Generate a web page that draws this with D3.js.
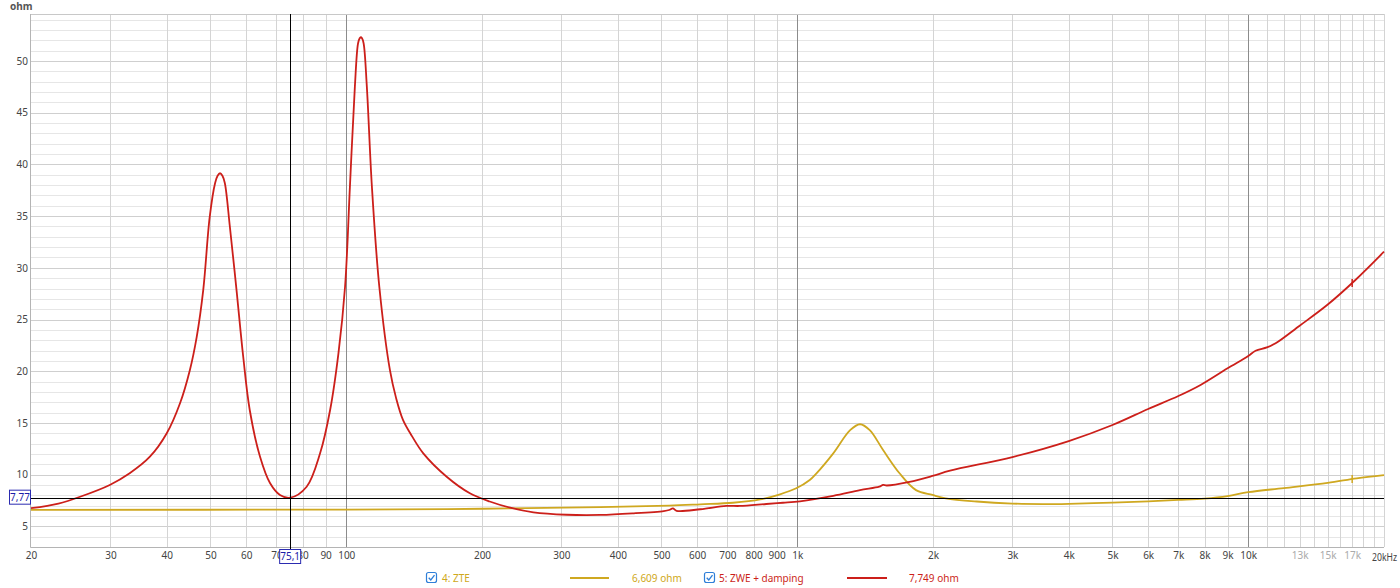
<!DOCTYPE html>
<html><head><meta charset="utf-8">
<script src="https://cdn.jsdelivr.net/npm/d3@7"></script>
<style>
html,body{margin:0;padding:0;background:#fff;}
svg{display:block;font-family:"Noto Sans","Open Sans",sans-serif;}
</style></head>
<body><svg id="c" width="1400" height="588"></svg>
<script>
// ---- data ----
const zweFreq = [20,23,25.7,29.9,33.1,36.7,40,42.8,45,46.6,48.2,49.8,51.2,51.85,52.5,53.15,53.8,55.2,57.1,59.1,61.1,64.4,67.8,71.3,75.1,81.7,87.5,92.1,96.1,99.4,101.9,104.5,106.2,107.1,107.7,108.4,109.3,111.1,114,118.4,125,129,133.6,140,148.2,167,188,208,231,260,308,366,434,506,520,530,540,610,696,746,854,930,1014,1202,1378,1520,1550,1580,1774,1994,2182,3000,4000,5000,6000,7000,7840,9000,10000,10380,11000,11500,13000,14960,17260,20000];
const zweVal  = [6.75,7.2,7.86,9.0,10.13,11.73,14.0,16.9,20.1,23.3,27.9,34.9,38.2,38.9,39.15,38.9,38.2,34.0,27.9,21.4,16.25,11.73,9.16,8.03,7.77,8.83,12.06,16.25,21.73,28.17,37.85,47.5,51.7,52.2,52.3,52.2,51.7,47.5,37.85,28.17,20.1,17.4,15.3,13.7,12.06,9.8,8.2,7.4,6.8,6.35,6.12,6.1,6.26,6.48,6.58,6.74,6.5,6.65,6.97,6.97,7.16,7.28,7.42,7.95,8.5,8.83,9.0,8.95,9.3,9.87,10.38,11.7,13.25,14.8,16.35,17.6,18.67,20.28,21.47,21.98,22.3,22.7,24.4,26.4,28.8,31.56];
const zteFreq = [20,100,200,366,520,610,720,828,916,995,1066,1102,1202,1310,1378,1448,1550,1686,1834,1994,2134,2500,3000,3500,4000,5000,6000,7000,8000,9000,10000,12000,15000,17400,20000];
const zteVal  = [6.6,6.62,6.7,6.85,7.0,7.13,7.28,7.6,8.1,8.68,9.48,10.1,12.06,14.3,14.87,14.3,12.38,10.13,8.5,8.03,7.71,7.4,7.2,7.15,7.18,7.3,7.42,7.55,7.68,7.92,8.3,8.7,9.2,9.64,9.96];
const xTickVals = [20,30,40,50,60,70,80,90,100,200,300,400,500,600,700,800,900,1000,2000,3000,4000,5000,6000,7000,8000,9000,10000,13000,15000,17000,20000];
const yTickVals = [5,10,15,20,25,30,35,40,45,50];
const seriesNames = ["4: ZTE","5: ZWE + damping"];
const cursorValues = ["6,609 ohm","7,749 ohm"];
const cursorFreq = 75.1, cursorOhm = 7.77;
const cursorFreqLabel = "75,1", cursorOhmLabel = "7,77";

// ---- layout ----
const L=31, R=1384, T=14, B=547;
const RED="#cc1f1a", GOLD="#cfa820";
const svg=d3.select("#c");
const x=d3.scaleLog().domain([20,20000]).range([L,R]);
const y=d3.scaleLinear().domain([3,54.55]).range([B,T]);

// horizontal grid
const hg=svg.append("g");
d3.range(4,55).forEach(v=>{
  hg.append("line").attr("x1",L).attr("x2",R).attr("y1",Math.round(y(v))+0.5).attr("y2",Math.round(y(v))+0.5)
    .attr("stroke", v%5===0?"#cfcfcf":"#e6e6e6").attr("stroke-width",1);
});
// vertical grid
const vlines=[];
for(let f=30;f<=100;f+=10) vlines.push(f);
for(let f=200;f<=1000;f+=100) vlines.push(f);
for(let f=2000;f<=10000;f+=1000) vlines.push(f);
for(let f=11000;f<=19000;f+=1000) vlines.push(f);
const vg=svg.append("g");
vlines.forEach(f=>{
  const dec=(f===100||f===1000||f===10000);
  vg.append("line").attr("x1",Math.round(x(f))+0.5).attr("x2",Math.round(x(f))+0.5).attr("y1",T).attr("y2",B)
    .attr("stroke",dec?"#8c8c8c":"#d4d4d4").attr("stroke-width",1);
});
// frame
svg.append("line").attr("x1",L-0.5).attr("x2",L-0.5).attr("y1",T).attr("y2",B+0.5).attr("stroke","#b4b4b4");
svg.append("line").attr("x1",L).attr("x2",R).attr("y1",T+0.5).attr("y2",T+0.5).attr("stroke","#c8c8c8");
svg.append("line").attr("x1",R+0.5).attr("x2",R+0.5).attr("y1",T).attr("y2",B).attr("stroke","#d4d4d4");
svg.append("line").attr("x1",L-0.5).attr("x2",R).attr("y1",B+0.5).attr("y2",B+0.5).attr("stroke","#b4b4b4");

// y ticks
const yAxis=d3.axisLeft(y).tickValues(yTickVals).tickSize(0).tickPadding(3).tickFormat(d3.format("d"));
const ya=svg.append("g").attr("transform",`translate(${L},0)`).call(yAxis);
ya.select(".domain").remove();
ya.selectAll("text").attr("font-size",10).attr("fill","#444").attr("font-family",'"Noto Sans",sans-serif');
svg.append("text").attr("x",10).attr("y",10).text("ohm").attr("font-size",10).attr("font-weight","bold").attr("fill","#555");

// x ticks
const fmt=f=> f>=1000 ? (f/1000)+"k" : String(f);
const xAxis=d3.axisBottom(x).tickValues(xTickVals).tickSize(0).tickPadding(5).tickFormat(f=> f===20000?"":fmt(f));
const xa=svg.append("g").attr("transform",`translate(0,${B})`).call(xAxis);
xa.select(".domain").remove();
xa.selectAll("text").attr("font-size",10).attr("font-family",'"Noto Sans",sans-serif')
  .attr("fill",d=> (d===13000||d===15000||d===17000)?"#aaa":"#444");
svg.append("text").attr("x",1397).attr("y",B+14).attr("text-anchor","end").text("20kHz").attr("font-size",10)
  .attr("textLength",25).attr("lengthAdjust","spacingAndGlyphs").attr("fill","#444");

// curves
const line=d3.line().x(d=>x(d[0])).y(d=>y(d[1])).curve(d3.curveCatmullRom.alpha(0.5));
const zte=zteFreq.map((f,i)=>[f,zteVal[i]]);
const zwe=zweFreq.map((f,i)=>[f,zweVal[i]]);
svg.append("path").attr("d",line(zte)).attr("fill","none").attr("stroke",GOLD).attr("stroke-width",1.8);
svg.append("path").attr("d",line(zwe)).attr("fill","none").attr("stroke",RED).attr("stroke-width",1.8);
// small markers at 17k
[[zte,GOLD],[zwe,RED]].forEach(([data,c])=>{
  const i=d3.bisector(d=>d[0]).left(data,17000);
  const a=data[i-1], b=data[i];
  const t=(Math.log(17000)-Math.log(a[0]))/(Math.log(b[0])-Math.log(a[0]));
  const v=a[1]+(b[1]-a[1])*t;
  svg.append("line").attr("x1",x(17000)).attr("x2",x(17000)).attr("y1",y(v)-4).attr("y2",y(v)+4).attr("stroke",c).attr("stroke-width",1.5);
});

// cursor
svg.append("line").attr("x1",L).attr("x2",R).attr("y1",Math.round(y(cursorOhm))+0.5).attr("y2",Math.round(y(cursorOhm))+0.5).attr("stroke","#000").attr("stroke-width",1);
svg.append("line").attr("x1",Math.round(x(cursorFreq))+0.5).attr("x2",Math.round(x(cursorFreq))+0.5).attr("y1",T).attr("y2",B+2).attr("stroke","#000").attr("stroke-width",1);
function box(cx,cy,w,h,txt){
  svg.append("rect").attr("x",cx).attr("y",cy).attr("width",w).attr("height",h).attr("fill","#fff").attr("stroke","#2b2bb0").attr("stroke-width",1);
  svg.append("text").attr("x",cx+w/2).attr("y",cy+h-3.5).attr("text-anchor","middle").text(txt).attr("font-size",10).attr("fill","#1c1ca8");
}
box(9.5,y(cursorOhm)-7.5,21,14,cursorOhmLabel);
box(x(cursorFreq)-10.5,549.5,21,14,cursorFreqLabel);

// legend
function checkbox(px,py){
  svg.append("rect").attr("x",px).attr("y",py).attr("width",10).attr("height",10).attr("rx",2).attr("fill","#fff").attr("stroke","#2f7fd8").attr("stroke-width",1.2);
  svg.append("path").attr("d",`M${px+2.2},${py+5.2} L${px+4.3},${py+7.5} L${px+8},${py+2.6}`).attr("fill","none").attr("stroke","#2f7fd8").attr("stroke-width",1.3);
}
const LY=582;
checkbox(426.5,572.5);
svg.append("text").attr("x",442).attr("y",LY).text(seriesNames[0]).attr("font-size",10).attr("fill",GOLD);
svg.append("line").attr("x1",570).attr("x2",609).attr("y1",578).attr("y2",578).attr("stroke",GOLD).attr("stroke-width",2);
svg.append("text").attr("x",632).attr("y",LY).text(cursorValues[0]).attr("font-size",10).attr("fill",GOLD);
checkbox(704.5,572.5);
svg.append("text").attr("x",719).attr("y",LY).text(seriesNames[1]).attr("font-size",10).attr("fill",RED);
svg.append("line").attr("x1",847).attr("x2",887).attr("y1",578).attr("y2",578).attr("stroke",RED).attr("stroke-width",2);
svg.append("text").attr("x",909).attr("y",LY).text(cursorValues[1]).attr("font-size",10).attr("fill",RED);
</script></body></html>
